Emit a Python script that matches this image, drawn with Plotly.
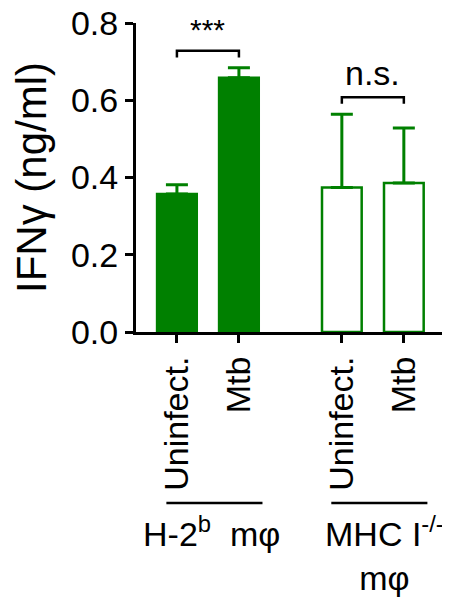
import plotly.graph_objects as go

# ---- data ----
categories = ["Uninfect.", "Mtb", "Uninfect.", "Mtb"]
groups = ["H-2<sup>b</sup>  mφ", "MHC I<sup>-/-</sup><br>mφ"]
values = [0.357, 0.658, 0.374, 0.386]
errors = [0.024, 0.026, 0.190, 0.142]
filled = [True, True, False, False]
sig_labels = ["***", "n.s."]
y_ticks = [0.0, 0.2, 0.4, 0.6, 0.8]

GREEN = "#008000"
FONT = "Liberation Sans, Arial, Helvetica, sans-serif"

# layout positions: two bars per group with a gap between groups
group_gap = 1.66
xpos = [0, 1, group_gap + 1, group_gap + 2]

fig = go.Figure()
fig.add_trace(go.Bar(
    x=xpos, y=values, width=0.64,
    marker=dict(color=[GREEN if f else "white" for f in filled],
                line=dict(color=GREEN, width=2.5)),
    error_y=dict(type="data", symmetric=False, array=errors,
                 arrayminus=[0] * len(errors), color=GREEN,
                 thickness=3, width=11),
    showlegend=False,
))

shapes = []
annotations = []
# significance brackets
for gi, lab in enumerate(sig_labels):
    i0, i1 = 2 * gi, 2 * gi + 1
    top = max(values[i0] + errors[i0], values[i1] + errors[i1])
    yb = top + 0.044
    shapes.append(dict(type="path", xref="x", yref="y",
                       path=f"M {xpos[i0]},{yb-0.017} L {xpos[i0]},{yb} L {xpos[i1]},{yb} L {xpos[i1]},{yb-0.017}",
                       line=dict(color="black", width=2.5)))
    annotations.append(dict(x=(xpos[i0] + xpos[i1]) / 2, y=yb + 0.008, xref="x", yref="y",
                            text=lab, showarrow=False, yanchor="bottom",
                            font=dict(size=34 if lab != "***" else 30, color="black", family=FONT)))

# group underlines and labels
for gi, lab in enumerate(groups):
    c = (xpos[2 * gi] + xpos[2 * gi + 1]) / 2
    shapes.append(dict(type="line", xref="x", yref="paper",
                       x0=c - 0.67, x1=c + 0.88, y0=-0.553, y1=-0.553,
                       line=dict(color="black", width=2.5)))
    if gi == 0:
        annotations.append(dict(x=c + 0.05, y=-0.569, xref="x", yref="paper",
                                text=lab, showarrow=False, yanchor="top", align="center",
                                font=dict(size=34, color="black", family=FONT)))
    else:
        annotations.append(dict(x=1.0, y=-0.569, xref="paper", yref="paper", xanchor="right",
                                text=lab, showarrow=False, yanchor="top", align="center",
                                font=dict(size=34, color="black", family=FONT)))

# note: the page body adds an 8px offset, so margins are compensated
fig.update_layout(
    width=450, height=600,
    margin=dict(l=128, r=12, t=15, b=276),
    plot_bgcolor="white", paper_bgcolor="white",
    font=dict(family=FONT, size=34, color="black"),
    shapes=shapes, annotations=annotations,
    xaxis=dict(range=[-0.66, group_gap + 2.68], tickvals=xpos, ticktext=categories,
               tickangle=-90, ticks="outside", ticklen=8, tickwidth=3, tickcolor="black",
               showline=True, linecolor="black", linewidth=3, showgrid=False, zeroline=False,
               tickfont=dict(size=34), automargin=False, ticklabeloverflow="allow"),
    yaxis=dict(range=[0, 0.8], tickvals=y_ticks, tickformat=".1f",
               ticks="outside", ticklen=8, tickwidth=3, tickcolor="black",
               showline=True, linecolor="black", linewidth=3, showgrid=False, zeroline=False,
               tickfont=dict(size=34), automargin=False, ticklabeloverflow="allow",
               title=dict(text="IFNγ (ng/ml)", font=dict(size=42), standoff=14)),
)

fig.write_html("out.html")
